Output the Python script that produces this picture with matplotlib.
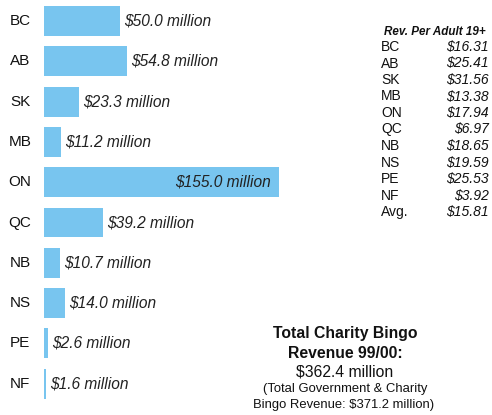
import matplotlib
matplotlib.use("Agg")
import matplotlib.pyplot as plt

plt.rcParams['font.family'] = ['Liberation Sans', 'DejaVu Sans']

provinces = ["BC", "AB", "SK", "MB", "ON", "QC", "NB", "NS", "PE", "NF"]
revenue = [50.0, 54.8, 23.3, 11.2, 155.0, 39.2, 10.7, 14.0, 2.6, 1.6]

table_names = ["BC", "AB", "SK", "MB", "ON", "QC", "NB", "NS", "PE", "NF", "Avg."]
per_adult = [16.31, 25.41, 31.56, 13.38, 17.94, 6.97, 18.65, 19.59, 25.53, 3.92, 15.81]

W, H = 492, 415
fig = plt.figure(figsize=(W / 100, H / 100), dpi=100)

# bar axes: left edge of bars at x=44px, 1.515 px per million
px_per = 1.515
ax = fig.add_axes([44 / W, 0, 1 - 44 / W, 1])
ax.set_xlim(0, (W - 44) / px_per)
row = 40.3
ax.set_ylim((H - 21) / row, -21 / row)
ax.axis('off')

ys = list(range(len(provinces)))
ax.barh(ys, revenue, height=0.74, color="#78C5EF", left=0)

for y, name, v in zip(ys, provinces, revenue):
    ax.text(-24 / px_per, y, name, ha='center', va='center', fontsize=11,
            color="#111111", clip_on=False)
    label = "$%.1f million" % v
    if v > 100:
        ax.annotate(label, (v, y), xytext=(-8, 0), textcoords='offset pixels',
                    ha='right', va='center', fontsize=11.2, style='italic',
                    color="#222222")
    else:
        ax.annotate(label, (v, y), xytext=(4, 0), textcoords='offset pixels',
                    ha='left', va='center', fontsize=11.2, style='italic',
                    color="#222222")

# per-adult table
def fx(px):
    return px / W

def fy(py):
    return 1 - py / H

fig.text(fx(435), fy(32), "Rev. Per Adult 19+", ha='center', va='center',
         fontsize=8.4, weight='bold', style='italic', color="#111111")
for i, (n, v) in enumerate(zip(table_names, per_adult)):
    yy = 47 + 16.5 * i
    fig.text(fx(381), fy(yy), n, ha='left', va='center', fontsize=10,
             color="#111111")
    fig.text(fx(489), fy(yy), "$%.2f" % v, ha='right', va='center',
             fontsize=10, style='italic', color="#111111")

# totals box
cx = 345
fig.text(fx(cx), fy(333), "Total Charity Bingo", ha='center', va='center',
         fontsize=11.3, weight='bold', color="#111111")
fig.text(fx(cx), fy(353), "Revenue 99/00:", ha='center', va='center',
         fontsize=11.3, weight='bold', color="#111111")
fig.text(fx(cx), fy(372), "$362.4 million", ha='center', va='center',
         fontsize=11.3, color="#111111")
fig.text(fx(cx), fy(389), "(Total Government & Charity", ha='center',
         va='center', fontsize=9.4, color="#111111")
fig.text(fx(cx - 1), fy(405), "Bingo Revenue: $371.2 million)", ha='center',
         va='center', fontsize=9.4, color="#111111")

fig.savefig("out.png", dpi=100)
